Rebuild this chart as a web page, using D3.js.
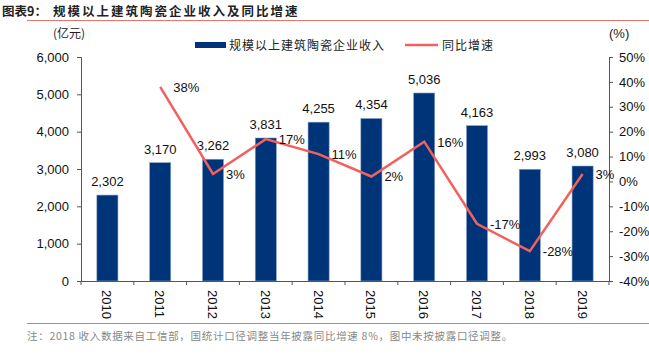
<!DOCTYPE html>
<html><head><meta charset="utf-8">
<script src="https://cdn.jsdelivr.net/npm/d3@7"></script>
<style>body{margin:0;background:#fff}svg{display:block}</style>
</head><body>
<script>
const years = ["2010","2011","2012","2013","2014","2015","2016","2017","2018","2019"];
const revenue = [2302,3170,3262,3831,4255,4354,5036,4163,2993,3080];
const growth = [null,38,3,17,11,2,16,-17,-28,3];
const leftTicks = [0,1000,2000,3000,4000,5000,6000];
const rightTicks = [-40,-30,-20,-10,0,10,20,30,40,50];
const titleLabel = "图表9：";
const titleText = "规模以上建筑陶瓷企业收入及同比增速";
const barName = "规模以上建筑陶瓷企业收入";
const lineName = "同比增速";
const note = "注：2018 收入数据来自工信部，国统计口径调整当年披露同比增速 8%，图中未按披露口径调整。";

const W=649,H=357;
const svg=d3.select("body").append("svg").attr("width",W).attr("height",H);
const num="Liberation Sans, Arial, sans-serif";
const cjk="Noto Sans CJK SC, sans-serif";
const barColor="#003478", lineColor="#F2615D", redRule="#E8766F";

// title
svg.append("text").attr("x",2).attr("y",16).attr("font-family",cjk).attr("font-weight","bold").attr("font-size",12.5).attr("fill","#222").text(titleLabel);
svg.append("text").attr("x",53).attr("y",16).attr("font-family",cjk).attr("font-weight","bold").attr("font-size",12.5).attr("fill","#222").attr("letter-spacing",2).text(titleText);
svg.append("line").attr("x1",27).attr("x2",W).attr("y1",20.5).attr("y2",20.5).attr("stroke",redRule).attr("stroke-width",1.2);
svg.append("line").attr("x1",27).attr("x2",W).attr("y1",323.5).attr("y2",323.5).attr("stroke",redRule).attr("stroke-width",1.2);
svg.append("text").attr("x",27).attr("y",340).attr("font-family",cjk).attr("font-size",10.5).attr("letter-spacing",0.7).attr("fill","#888").text(note);

const L=81,R=609,T=57,B=281;
const x=d3.scaleBand().domain(years).range([L,R]).paddingInner(0.6).paddingOuter(0.3);
const xc=d3.scalePoint().domain(years).range([L,R]).padding(0.5);
const y=d3.scaleLinear().domain([0,6000]).range([B,T]);
const y2=d3.scaleLinear().domain([-40,50]).range([B,T]);

// bars
svg.selectAll(".bar").data(years).enter().append("rect")
  .attr("x",d=>xc(d)-x.bandwidth()/2).attr("width",x.bandwidth())
  .attr("y",(d,i)=>y(revenue[i])).attr("height",(d,i)=>B-y(revenue[i]))
  .attr("fill",barColor).attr("stroke","#8aa6c8").attr("stroke-width",0.6);
svg.selectAll(".bl").data(years).enter().append("text")
  .attr("x",d=>xc(d)).attr("y",(d,i)=>y(revenue[i])-9).attr("text-anchor","middle")
  .attr("font-family",num).attr("font-size",13).attr("fill","#111")
  .text((d,i)=>d3.format(",")(revenue[i]));

// axes
const axL=svg.append("g").attr("transform",`translate(${L},0)`).call(d3.axisLeft(y).tickValues(leftTicks).tickFormat(d3.format(",")).tickSize(4).tickPadding(8));
const axR=svg.append("g").attr("transform",`translate(${R},0)`).call(d3.axisRight(y2).tickValues(rightTicks).tickFormat(d=>d+"%").tickSize(4).tickPadding(6));
const axX=svg.append("g").attr("transform",`translate(0,${B})`).call(d3.axisBottom(xc).tickSize(0).tickPadding(0).tickFormat(""));
[axL,axR,axX].forEach(a=>{a.select(".domain").attr("stroke","#555");a.selectAll(".tick line").attr("stroke","#555");a.selectAll("text").attr("font-family",num).attr("font-size",13).attr("fill","#111");});
// x tick marks between categories
const step=xc.step();
svg.selectAll(".xt").data(d3.range(years.length+1)).enter().append("line")
  .attr("x1",i=>L+i*step).attr("x2",i=>L+i*step).attr("y1",B).attr("y2",B+4).attr("stroke","#555");
svg.selectAll(".xl").data(years).enter().append("text")
  .attr("transform",d=>`translate(${xc(d)-5},${B+9}) rotate(90)`)
  .attr("font-family",num).attr("font-size",13).attr("fill","#111").text(d=>d);

svg.append("text").attr("x",53).attr("y",38).attr("font-family",cjk).attr("font-size",12).attr("fill","#222").text("(亿元)");
svg.append("text").attr("x",609).attr("y",38).attr("font-family",num).attr("font-size",13).attr("fill","#222").text("(%)");

// line
const pts=years.map((d,i)=>({d,v:growth[i]})).filter(p=>p.v!==null);
svg.append("path").datum(pts).attr("fill","none").attr("stroke",lineColor).attr("stroke-width",2.5)
  .attr("d",d3.line().x(p=>xc(p.d)).y(p=>y2(p.v)));
svg.selectAll(".ll").data(pts).enter().append("text")
  .attr("x",p=>xc(p.d)+13).attr("y",p=>y2(p.v)+5)
  .attr("font-family",num).attr("font-size",13).attr("fill","#111").text(p=>p.v+"%");

// legend
svg.append("rect").attr("x",195).attr("y",42).attr("width",31).attr("height",6).attr("fill",barColor);
svg.append("text").attr("x",229).attr("y",50).attr("font-family",cjk).attr("font-size",12).attr("letter-spacing",1).attr("fill","#222").text(barName);
svg.append("line").attr("x1",405).attr("x2",438).attr("y1",45).attr("y2",45).attr("stroke",lineColor).attr("stroke-width",2.5);
svg.append("text").attr("x",442).attr("y",50).attr("font-family",cjk).attr("font-size",12).attr("letter-spacing",1).attr("fill","#222").text(lineName);
</script>
</body></html>
